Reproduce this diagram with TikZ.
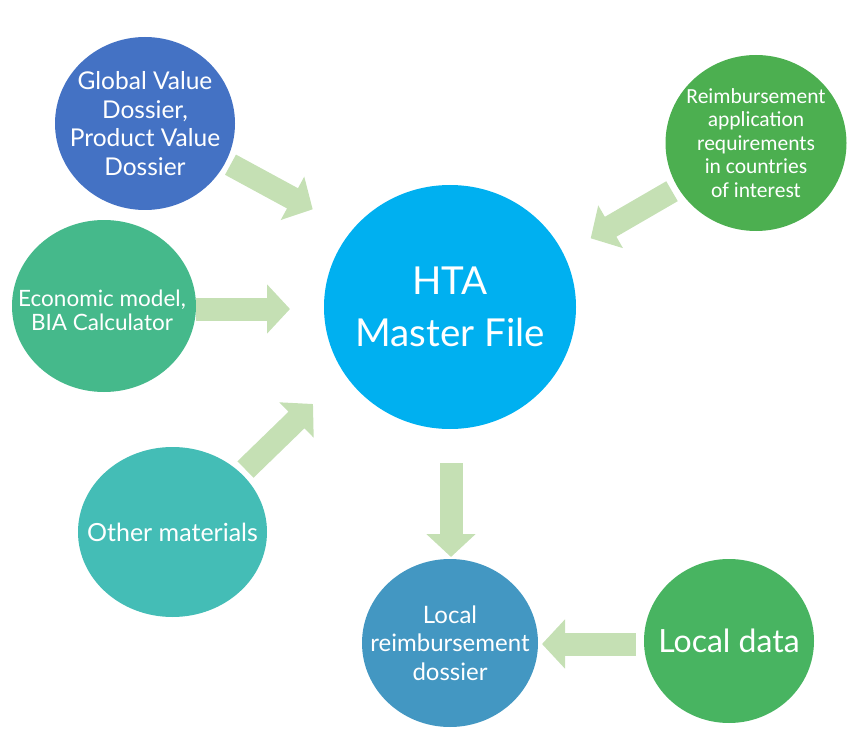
\documentclass[tikz,border=0pt]{standalone}
\usepackage{fontspec}
\setmainfont{Lato}
\newfontfamily\calib{Carlito}
\usetikzlibrary{shapes.geometric,arrows.meta}
\definecolor{cgvd}{HTML}{4472C4}
\definecolor{cecon}{HTML}{45B98B}
\definecolor{cother}{HTML}{44BDB6}
\definecolor{clocr}{HTML}{4397C2}
\definecolor{cldata}{HTML}{48B461}
\definecolor{creimb}{HTML}{4CAF50}
\definecolor{chta}{HTML}{00B0F0}
\definecolor{carrow}{HTML}{C5E0B4}
\tikzset{
  blob/.style={ellipse, inner sep=0pt, draw=none},
  label text/.style={text=white, align=center, inner sep=0pt},
  bigarrow/.style={draw=carrow, line width=23pt, -{Triangle[width=48pt,length=23pt]}},
}
\begin{document}
\begin{tikzpicture}[x=1pt,y=-1pt]
\useasboundingbox (0,0) rectangle (860,741);
% circles
\node[blob, fill=cgvd, minimum width=180pt, minimum height=173pt] (gvd) at (145,123.5) {};
\node[blob, fill=cecon, minimum width=184pt, minimum height=172pt] (econ) at (104,306) {};
\node[blob, fill=cother, minimum width=189pt, minimum height=170pt] (other) at (172.5,532) {};
\node[blob, fill=chta, minimum width=252pt, minimum height=244pt] (hta) at (450,307) {};
\node[blob, fill=creimb, minimum width=181pt, minimum height=176pt] (reimb) at (756,143) {};
\node[blob, fill=clocr, minimum width=176pt, minimum height=168pt] (locr) at (450,643) {};
\node[blob, fill=cldata, minimum width=170pt, minimum height=164pt] (ldata) at (729,641) {};
% texts
\node[label text, font=\fontsize{24.5}{28.5}\selectfont] (gvdt) at (gvd.center) {Global Value\\Dossier,\\Product Value\\Dossier};
\node[label text, font=\fontsize{22.5}{24}\selectfont] (econt) at (102,310) {Economic model,\\BIA Calculator};
\node[label text, font=\fontsize{25}{30}\selectfont] (othert) at (other.center) {Other materials};
\node[label text, font=\fontsize{38.5}{51.7}\selectfont] (htat) at (hta.center) {HTA\\Master File};
\node[label text, font=\calib\fontsize{21.5}{23.5}\selectfont] (reimbt) at (reimb.center) {Reimbursement\\application\\requirements\\in countries\\of interest};
\node[label text, font=\fontsize{24}{28.5}\selectfont] (locrt) at (locr.center) {Local\\reimbursement\\dossier};
\node[label text, font=\fontsize{32}{36}\selectfont] (ldatat) at (ldata.center) {Local data};
% arrow end points
\coordinate (a1s) at (230.5,164.7); \coordinate (a1e) at (312.7,209.3);
\coordinate (a2s) at (196,309);     \coordinate (a2e) at (290,309);
\coordinate (a3s) at (245.5,469.5); \coordinate (a3e) at (313,404);
\coordinate (a4s) at (672,191.2);   \coordinate (a4e) at (590.7,238.3);
\coordinate (a5s) at (451,463);     \coordinate (a5e) at (451,557);
\coordinate (a6s) at (636,644);     \coordinate (a6e) at (542,644);
\draw[bigarrow] (a1s) -- (a1e);
\draw[bigarrow] (a2s) -- (a2e);
\draw[bigarrow] (a3s) -- (a3e);
\draw[bigarrow] (a4s) -- (a4e);
\draw[bigarrow] (a5s) -- (a5e);
\draw[bigarrow] (a6s) -- (a6e);
\end{tikzpicture}
\end{document}
